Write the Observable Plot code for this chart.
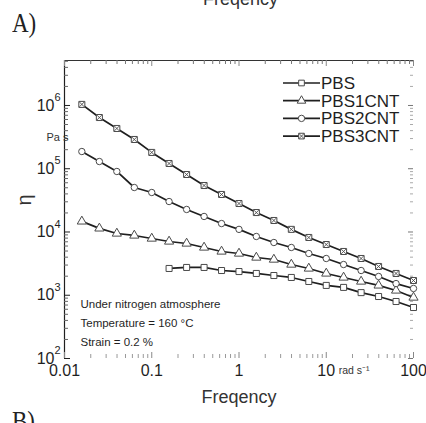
<!DOCTYPE html>
<html><head><meta charset="utf-8">
<script src="https://cdn.jsdelivr.net/npm/d3@7"></script>
<script src="https://cdn.jsdelivr.net/npm/@observablehq/plot@0.6"></script>
<style>
html,body{margin:0;padding:0;background:#fff;}
#wrap{position:relative;width:426px;height:423px;overflow:hidden;font-family:"Liberation Sans",Arial,sans-serif;}
.panel{position:absolute;font-family:"Liberation Serif","Times New Roman",serif;color:#222;line-height:1;white-space:nowrap;}
#wrap svg{position:absolute;left:0;top:0;}
</style></head><body>
<div id="wrap">
  <div class="panel" style="left:12px;top:9px;font-size:23px;transform:scaleY(1.2);transform-origin:left top;">A)</div>
  <div class="panel" style="left:12px;top:407px;font-size:23px;transform:scaleY(1.2);transform-origin:left top;">B)</div>
  <div style="position:absolute;left:203px;top:-10px;font-family:'Liberation Sans',Arial,sans-serif;font-size:18px;line-height:1;color:#333;">Freqency</div>
</div>
<script>
// ---- data ----
const seriesNames = ["PBS", "PBS1CNT", "PBS2CNT", "PBS3CNT"];
const freq = [0.0158, 0.0251, 0.0398, 0.0631, 0.1, 0.158, 0.251, 0.398, 0.631, 1, 1.58, 2.51, 3.98, 6.31, 10, 15.8, 25.1, 39.8, 63.1, 100];
const freqPBS = [0.158, 0.251, 0.398, 0.631, 1, 1.58, 2.51, 3.98, 6.31, 10, 15.8, 25.1, 39.8, 63.1, 100];
const etaPBS = [2650, 2750, 2750, 2460, 2370, 2210, 2050, 1910, 1650, 1430, 1330, 1100, 955, 796, 640];
const etaPBS1CNT = [14700, 11400, 9470, 8810, 7890, 7080, 6580, 5690, 4920, 4570, 3950, 3670, 3060, 2650, 2210, 1910, 1650, 1430, 1190, 921];
const etaPBS2CNT = [187000, 130000, 90500, 50500, 42100, 30300, 22700, 17600, 13600, 11000, 8490, 6820, 5690, 4570, 3810, 3060, 2460, 1980, 1530, 1280];
const etaPBS3CNT = [1040000, 645000, 433000, 290000, 181000, 121000, 81100, 54300, 39200, 28200, 20300, 15200, 11000, 8190, 6340, 4920, 3810, 2850, 2210, 1710];
const xTickValues = [0.01, 0.1, 1, 10, 100];
const xTickLabels = ["0.01", "0.1", "1", "10", "100"];
const yTickValues = [1e2, 1e3, 1e4, 1e5, 1e6];
const yTickExponents = ["2", "3", "4", "5", "6"];
const xDomain = [0.01, 100];
const yDomain = [100, 5.14e6];
const xTitle = "Freqency";
const yTitle = "η";
const yUnit = "Pa s";
const xUnit = "rad s⁻¹";
const notes = ["Under nitrogen atmosphere", "Temperature = 160 °C", "Strain = 0.2 %"];

// ---- build table ----
const rows = [];
freqPBS.forEach((f, i) => rows.push({series: "PBS", f, eta: etaPBS[i]}));
freq.forEach((f, i) => rows.push({series: "PBS1CNT", f, eta: etaPBS1CNT[i]}));
freq.forEach((f, i) => rows.push({series: "PBS2CNT", f, eta: etaPBS2CNT[i]}));
freq.forEach((f, i) => rows.push({series: "PBS3CNT", f, eta: etaPBS3CNT[i]}));
const symbols = {PBS: "square", PBS1CNT: "triangle", PBS2CNT: "circle", PBS3CNT: "square"};

const W = 426, H = 423, mL = 64, mR = 13, mT = 60, mB = 65;
const fw = W - mL - mR, fh = H - mT - mB;
const xMinor = d3.scaleLog().domain(xDomain).ticks().filter(v => !xTickValues.some(t => Math.abs(t - v) / t < 1e-9));
const yMinor = d3.scaleLog().domain(yDomain).ticks().filter(v => !yTickValues.some(t => Math.abs(t - v) / t < 1e-9));

const ink = "#1f1f1f";
const marks = [
  Plot.ruleX([xDomain[0]], {stroke: ink, strokeWidth: 1.2}),
  Plot.ruleY([yDomain[1]], {stroke: "#333", strokeWidth: 1}),
  // left ticks
  Plot.tickY(yTickValues, {y: d => d, insetRight: fw - 6, stroke: ink}),
  Plot.tickY(yMinor, {y: d => d, insetRight: fw - 4, stroke: "#666"}),
  // right ticks
  Plot.tickY(yTickValues, {y: d => d, insetLeft: fw - 5, stroke: "#777"}),
  Plot.tickY(yMinor, {y: d => d, insetLeft: fw - 3, stroke: "#aaa"}),
  // bottom ticks
  Plot.tickX(xTickValues, {x: d => d, insetTop: fh - 6, stroke: "#888"}),
  Plot.tickX(xMinor, {x: d => d, insetTop: fh - 4, stroke: "#999"}),
  // top ticks
  Plot.tickX(xTickValues, {x: d => d, insetBottom: fh - 6, stroke: "#888"}),
  Plot.tickX(xMinor, {x: d => d, insetBottom: fh - 4, stroke: "#777"}),
  // series
  Plot.line(rows, {x: "f", y: "eta", z: "series", stroke: ink, strokeWidth: 1.7}),
  ...seriesNames.map(s => Plot.dot(rows.filter(d => d.series === s), {
    x: "f", y: "eta", symbol: symbols[s], r: s === "PBS2CNT" ? 3.2 : 3.4,
    fill: "white", stroke: "#4a4a4a", strokeWidth: 1
  })),
  Plot.dot(rows.filter(d => d.series === "PBS3CNT"), {x: "f", y: "eta", symbol: "times", r: 2.3, stroke: "#4a4a4a", strokeWidth: 0.9}),
  // y tick labels
  Plot.text(yTickValues, {y: d => d, text: () => "10", frameAnchor: "left", textAnchor: "end", lineAnchor: "middle", dx: -10, fontSize: 16, fill: ink}),
  Plot.text(yTickValues, {y: d => d, text: (d, i) => yTickExponents[i], frameAnchor: "left", textAnchor: "start", lineAnchor: "middle", dx: -10, dy: -8, fontSize: 11, fill: ink}),
  // x tick labels
  Plot.text(xTickValues, {x: d => d, text: (d, i) => xTickLabels[i], frameAnchor: "bottom", lineAnchor: "middle", dy: 12, fontSize: 16, fill: ink}),
  Plot.text([xUnit], {text: d => d, frameAnchor: "bottom-right", lineAnchor: "middle", dx: -44, dy: 12, fontSize: 10.5, fill: "#333"}),
  Plot.text([xTitle], {text: d => d, frameAnchor: "bottom", lineAnchor: "middle", dy: 39, fontSize: 18, fill: "#333"}),
  Plot.text([yTitle], {text: d => d, frameAnchor: "left", lineAnchor: "middle", dx: -40, dy: -4, rotate: -90, fontSize: 20, fill: "#333"}),
  Plot.text([yUnit], {text: d => d, frameAnchor: "top-left", lineAnchor: "middle", dx: -18, dy: 77, fontSize: 11, fill: "#333"}),
  Plot.text([notes.join("\n")], {text: d => d, frameAnchor: "bottom-left", textAnchor: "start", lineAnchor: "middle", dx: 16, dy: -38, lineHeight: 1.65, fontSize: 11.5, fill: ink})
];

const plot = Plot.plot({
  width: W, height: H,
  marginLeft: mL, marginRight: mR, marginTop: mT, marginBottom: mB,
  x: {type: "log", domain: xDomain, axis: null},
  y: {type: "log", domain: yDomain, axis: null},
  style: {fontFamily: "'Liberation Sans', Arial, sans-serif", background: "transparent", overflow: "visible"},
  marks
});
document.getElementById("wrap").appendChild(plot);

// ---- legend ----
const svg = d3.select(plot);
const lg = svg.append("g").attr("font-family", "'Liberation Sans', Arial, sans-serif").attr("text-anchor", "start");
const legX1 = 283, legX2 = 320, legY0 = 83, legStep = 17.7;
seriesNames.forEach((s, i) => {
  const y = legY0 + i * legStep;
  lg.append("line").attr("x1", legX1).attr("x2", legX2).attr("y1", y).attr("y2", y).attr("stroke", ink).attr("stroke-width", 1.7);
  const cx = (legX1 + legX2) / 2;
  const type = {square: d3.symbolSquare, triangle: d3.symbolTriangle, circle: d3.symbolCircle}[symbols[s]];
  lg.append("path").attr("d", d3.symbol(type, Math.PI * 3.2 * 3.2)()).attr("transform", `translate(${cx},${y})`)
    .attr("fill", "white").attr("stroke", "#4a4a4a").attr("stroke-width", 1);
  if (s === "PBS3CNT") {
    lg.append("path").attr("d", d3.symbol(d3.symbolTimes, Math.PI * 2.3 * 2.3)()).attr("transform", `translate(${cx},${y})`)
      .attr("fill", "none").attr("stroke", "#4a4a4a").attr("stroke-width", 0.9);
  }
  lg.append("text").attr("x", legX2 + 1).attr("y", y).attr("dy", "0.35em").attr("font-size", 17).attr("fill", ink).attr("text-anchor", "start").text(s);
});
</script>
</body></html>
